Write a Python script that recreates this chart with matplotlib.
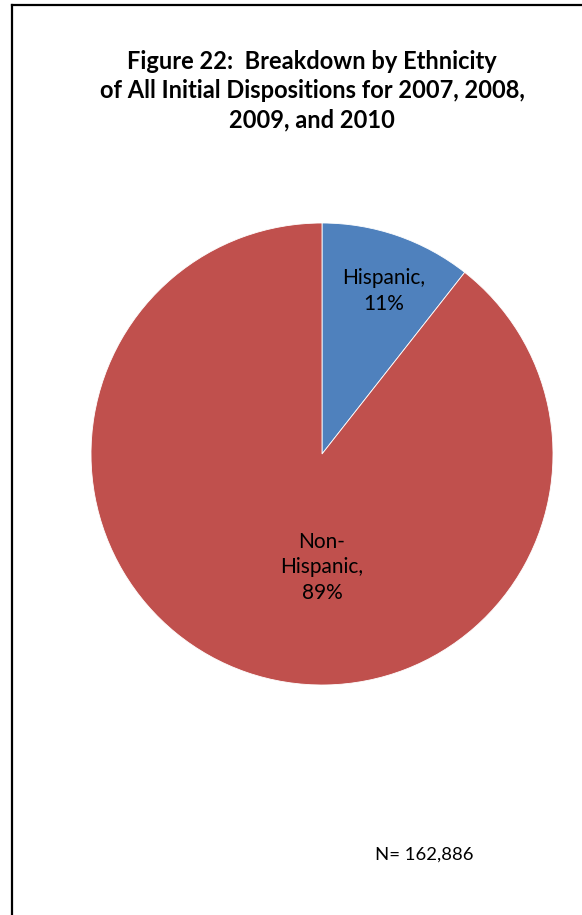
import matplotlib.pyplot as plt
from matplotlib.lines import Line2D

# データ
categories = ["Hispanic", "Non-Hispanic"]
shares = [10.6, 89.4]
label_texts = ["Hispanic,\n11%", "Non-\nHispanic,\n89%"]
colors = ["#4F81BD", "#C0504D"]
title = "Figure 22:  Breakdown by Ethnicity\nof All Initial Dispositions for 2007, 2008,\n2009, and 2010"
note = "N= 162,886"

W, H = 582, 915
fig = plt.figure(figsize=(W / 100, H / 100), dpi=100)
fig.patch.set_facecolor("white")

# 枠線（左と上だけ見えている）
fig.add_artist(Line2D([11.5 / W, 11.5 / W], [0, 1 - 5 / H], color="black", lw=1.6))
fig.add_artist(Line2D([11.5 / W, 1], [1 - 5 / H, 1 - 5 / H], color="black", lw=1.6))

# 円グラフ（中心 322,454 半径 231 px）
cx, cy, r = 322, 454, 231
ax = fig.add_axes([(cx - r) / W, (H - cy - r) / H, 2 * r / W, 2 * r / H])
ax.pie(shares, colors=colors, startangle=90, counterclock=False, radius=1,
       wedgeprops=dict(linewidth=0.6, edgecolor="white"))
ax.set_xlim(-1, 1)
ax.set_ylim(-1, 1)
ax.set_aspect("equal")
ax.axis("off")

# ラベル
label_pos = [(0.268, 0.706), (0.0, -0.49)]
for (x, y), t in zip(label_pos, label_texts):
    ax.text(x, y, t, ha="center", va="center", fontsize=15, family="Lato",
            linespacing=1.35, color="black")

fig.text(312 / W, 1 - 91 / H, title, ha="center", va="center", fontsize=17,
         family="Lato", fontweight="bold", linespacing=1.32)
fig.text(424 / W, 1 - 855 / H, note, ha="center", va="center", fontsize=13.3,
         family="Lato")

fig.savefig("out.png", dpi=100)
